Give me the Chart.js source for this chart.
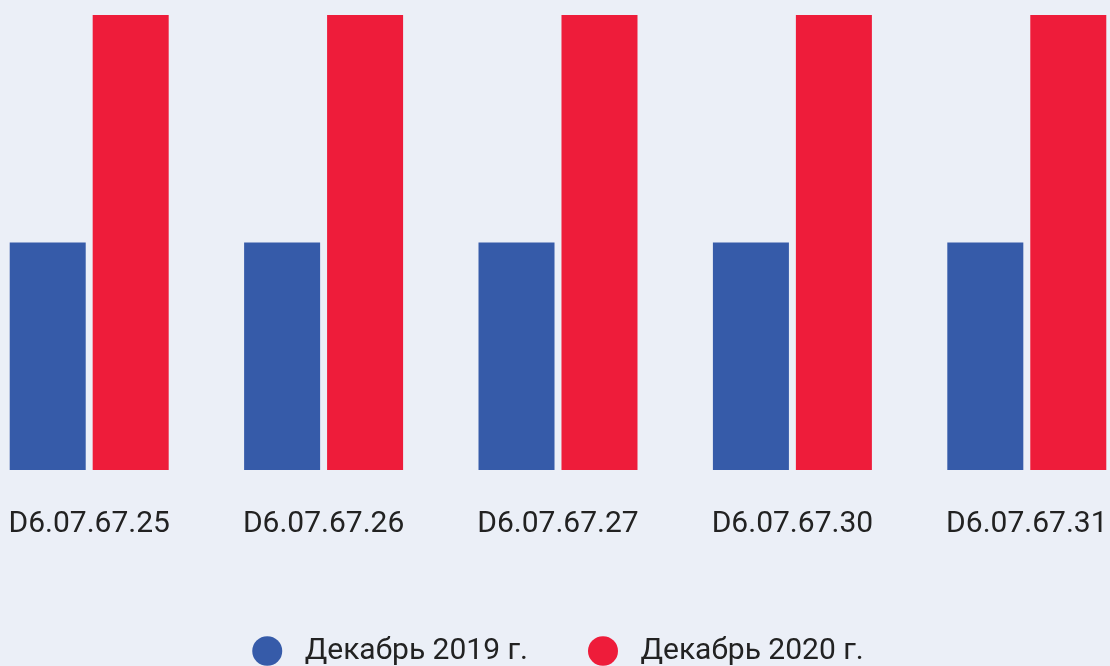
<!DOCTYPE html>
<html>
<head>
<meta charset="utf-8">
<script src="https://cdn.jsdelivr.net/npm/chart.js@4/dist/chart.umd.min.js"></script>
<style>
    html, body {
        margin: 0;
        padding: 0;
        width: 1110px;
        height: 666px;
        overflow: hidden;
        background: #ebeff7;
    }
    #wrap {
        position: absolute;
        left: -28px;
        top: 0;
        width: 1172px;
        height: 666px;
    }
</style>
</head>
<body>
<div id="wrap"><canvas id="bar-chart"></canvas></div>
<script>
// Chart data.
const categories = ['D6.07.67.25', 'D6.07.67.26', 'D6.07.67.27', 'D6.07.67.30', 'D6.07.67.31'];
const seriesNames = ['Декабрь 2019 г.', 'Декабрь 2020 г.'];
const values2019 = [50, 50, 50, 50, 50];
const values2020 = [100, 100, 100, 100, 100];

const blue = '#365ba9';
const red = '#ee1c3a';
const textColor = '#222222';

// Legend labels with a little extra room after the dot.
function legendLabels(chart) {
    return Chart.defaults.plugins.legend.labels.generateLabels(chart).map(item => {
        item.text = ' ' + item.text;
        return item;
    });
}

const barChart = new Chart(
    document.querySelector('#bar-chart'),
    {
        type: 'bar',
        data: {
            labels: categories,
            datasets: [
                {
                    label: seriesNames[0],
                    data: values2019,
                    backgroundColor: blue,
                    borderWidth: 0,
                    pointStyle: 'circle'
                },
                {
                    label: seriesNames[1],
                    data: values2020,
                    backgroundColor: red,
                    borderWidth: 0,
                    pointStyle: 'circle'
                }
            ]
        },
        options: {
            responsive: true,
            maintainAspectRatio: false,
            animation: false,
            categoryPercentage: 0.708,
            barPercentage: 0.916,
            layout: {
                padding: { top: 15, bottom: -10, left: 0, right: 0 }
            },
            plugins: {
                tooltip: { enabled: false },
                legend: {
                    position: 'bottom',
                    labels: {
                        usePointStyle: true,
                        boxHeight: 21,
                        pointStyleWidth: 30,
                        padding: 60,
                        color: textColor,
                        font: { family: 'Roboto', size: 30 },
                        generateLabels: legendLabels
                    }
                }
            },
            scales: {
                x: {
                    grid: { display: false, drawTicks: false },
                    border: { display: false },
                    ticks: {
                        padding: 36,
                        color: textColor,
                        font: { family: 'Roboto', size: 30 }
                    },
                    afterFit: scale => {
                        scale.height = 106; // space between labels and legend
                    }
                },
                y: {
                    display: false,
                    min: 0,
                    max: 100
                }
            }
        }
    }
);
</script>
</body>
</html>
